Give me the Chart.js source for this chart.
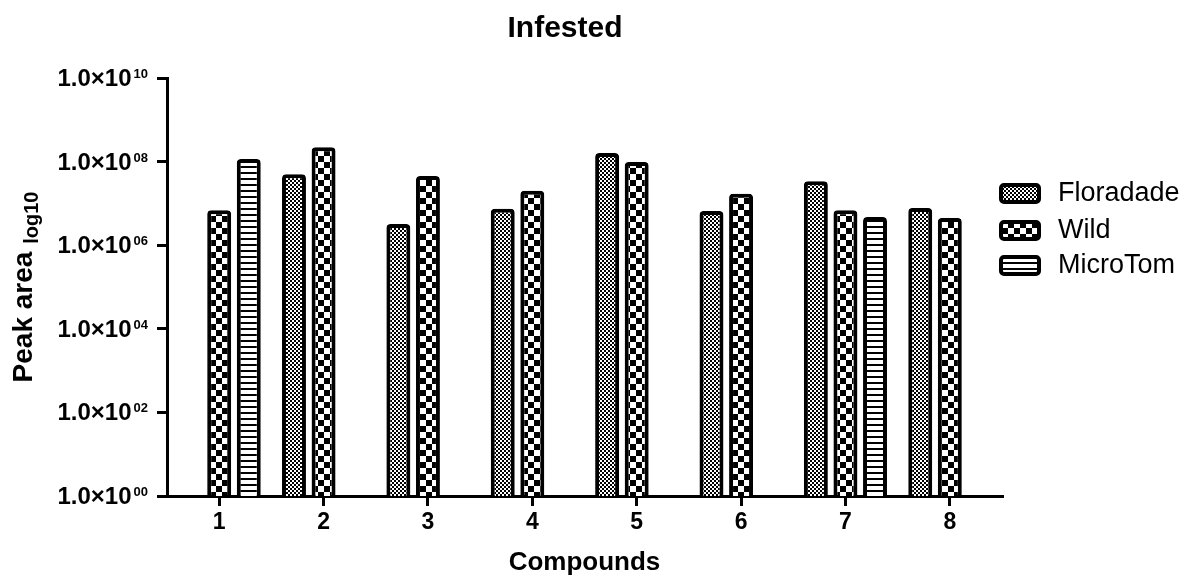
<!DOCTYPE html>
<html>
<head>
<meta charset="utf-8">
<script src="https://cdn.jsdelivr.net/npm/chart.js@4.4.0/dist/chart.umd.min.js"></script>
<style>
  body { margin: 0; background: #fff; }
  #wrap { width: 1186px; height: 578px; }
</style>
</head>
<body>
<div id="wrap"><canvas id="infestedChart" width="1186" height="578"></canvas></div>
<script>
const compounds = ['1', '2', '3', '4', '5', '6', '7', '8'];
const seriesNames = ['Floradade', 'Wild', 'MicroTom'];
const floradade = [null, 5.0e7, 3.2e6, 7.4e6, 1.6e8, 6.6e6, 3.4e7, 7.8e6];
const wild = [6.9e6, 2.2e8, 4.5e7, 2.0e7, 9.8e7, 1.7e7, 6.9e6, 4.5e6];
const microTom = [1.15e8, null, null, null, null, null, 4.7e6, null];
const yTickExponents = ['00', '02', '04', '06', '08', '10'];

const FONT = '"Liberation Sans", Arial, sans-serif';
const canvas = document.getElementById('infestedChart');
const mainCtx = canvas.getContext('2d');

// black & white fill patterns, one per genotype
function makePattern(w, h, paint) {
  const c = document.createElement('canvas');
  c.width = w;
  c.height = h;
  const g = c.getContext('2d');
  g.fillStyle = '#fff';
  g.fillRect(0, 0, w, h);
  g.fillStyle = '#000';
  paint(g);
  return mainCtx.createPattern(c, 'repeat');
}

const fineChecker = makePattern(4, 4, g => {
  g.fillRect(2, 0, 2, 2);
  g.fillRect(0, 2, 2, 2);
});
const bigChecker = makePattern(12, 12, g => {
  g.fillRect(6, 0, 6, 6);
  g.fillRect(0, 6, 6, 6);
});
const stripes = makePattern(6, 6, g => {
  g.fillRect(0, 4, 6, 2);
});

const patterns = [fineChecker, bigChecker, stripes];
const seriesData = [floradade, wild, microTom];

const datasets = seriesNames.map((name, i) => ({
  label: name,
  data: seriesData[i],
  backgroundColor: patterns[i],
  borderColor: '#000',
  borderWidth: 4,
  borderRadius: 4,
  borderSkipped: 'bottom',
  barPercentage: 0.81,
  categoryPercentage: 0.85
}));

// y tick labels as 1.0x10^NN, rotated y title with subscript, and legend
const labelPlugin = {
  id: 'labelPlugin',
  afterDraw(chart) {
    const { ctx, chartArea, scales: { y } } = chart;
    ctx.save();
    ctx.fillStyle = '#000';
    ctx.textAlign = 'left';
    ctx.textBaseline = 'alphabetic';

    const labelRight = y.right - 19;
    y.ticks.forEach((t, i) => {
      const py = y.getPixelForValue(t.value);
      const exp = yTickExponents[i];
      ctx.font = `bold 13px ${FONT}`;
      const expW = ctx.measureText(exp).width;
      ctx.fillText(exp, labelRight - expW, py);
      ctx.font = `bold 24px ${FONT}`;
      const base = '1.0\u00d710';
      const baseW = ctx.measureText(base).width;
      ctx.fillText(base, labelRight - expW - 2 - baseW, py + 8);
    });

    // "Peak area log10"
    const midY = (chartArea.top + chartArea.bottom) / 2;
    ctx.font = `bold 28px ${FONT}`;
    const main = 'Peak area ';
    const mainW = ctx.measureText(main).width;
    ctx.font = `bold 20px ${FONT}`;
    const sub = 'log10';
    const subW = ctx.measureText(sub).width;
    const total = mainW + subW;
    ctx.translate(32, midY);
    ctx.rotate(-Math.PI / 2);
    ctx.font = `bold 28px ${FONT}`;
    ctx.fillText(main, -total / 2, 0);
    ctx.font = `bold 20px ${FONT}`;
    ctx.fillText(sub, -total / 2 + mainW, 6);
    ctx.setTransform(1, 0, 0, 1, 0, 0);

    // legend
    const boxX = chartArea.right - 3;
    const rowY = [193, 230, 265];
    chart.data.datasets.forEach((ds, i) => {
      const cy = rowY[i];
      ctx.beginPath();
      ctx.roundRect(boxX + 2, cy - 10 + 2, 42 - 4, 21 - 4, 3);
      ctx.fillStyle = ds.backgroundColor;
      ctx.fill();
      ctx.lineWidth = 4;
      ctx.strokeStyle = '#000';
      ctx.stroke();
      ctx.fillStyle = '#000';
      ctx.font = `27px ${FONT}`;
      ctx.textBaseline = 'middle';
      ctx.fillText(ds.label, boxX + 59, cy + 1);
      ctx.textBaseline = 'alphabetic';
    });
    ctx.restore();
  }
};

new Chart(canvas, {
  type: 'bar',
  data: { labels: compounds, datasets },
  options: {
    responsive: false,
    animation: false,
    layout: { padding: { left: 128, right: 184, top: 0, bottom: 0 } },
    plugins: {
      legend: { display: false },
      tooltip: { enabled: false },
      title: {
        display: true,
        text: 'Infested',
        color: '#000',
        font: { family: FONT, size: 30, weight: 'bold' },
        padding: { top: 11, bottom: 31 }
      }
    },
    scales: {
      x: {
        grid: {
          display: true,
          offset: false,
          drawOnChartArea: false,
          drawTicks: true,
          tickLength: 10,
          lineWidth: 3,
          color: '#000'
        },
        border: { display: true, color: '#000', width: 3 },
        ticks: {
          color: '#000',
          padding: 3,
          font: { family: FONT, size: 23, weight: 'bold' }
        },
        title: {
          display: true,
          text: 'Compounds',
          color: '#000',
          padding: { top: 0, bottom: 0 },
          font: { family: FONT, size: 26, weight: 'bold' }
        },
        afterFit: scale => { scale.height = 82; }
      },
      y: {
        type: 'logarithmic',
        min: 1,
        max: 1e10,
        grid: {
          display: true,
          drawOnChartArea: false,
          drawTicks: true,
          tickLength: 10,
          lineWidth: 3,
          color: '#000'
        },
        border: { display: true, color: '#000', width: 3 },
        ticks: { display: false },
        afterBuildTicks: scale => {
          scale.ticks = yTickExponents.map(e => ({ value: Math.pow(10, Number(e)) }));
        },
        afterFit: scale => { scale.width = 39; }
      }
    }
  },
  plugins: [labelPlugin]
});
</script>
</body>
</html>
